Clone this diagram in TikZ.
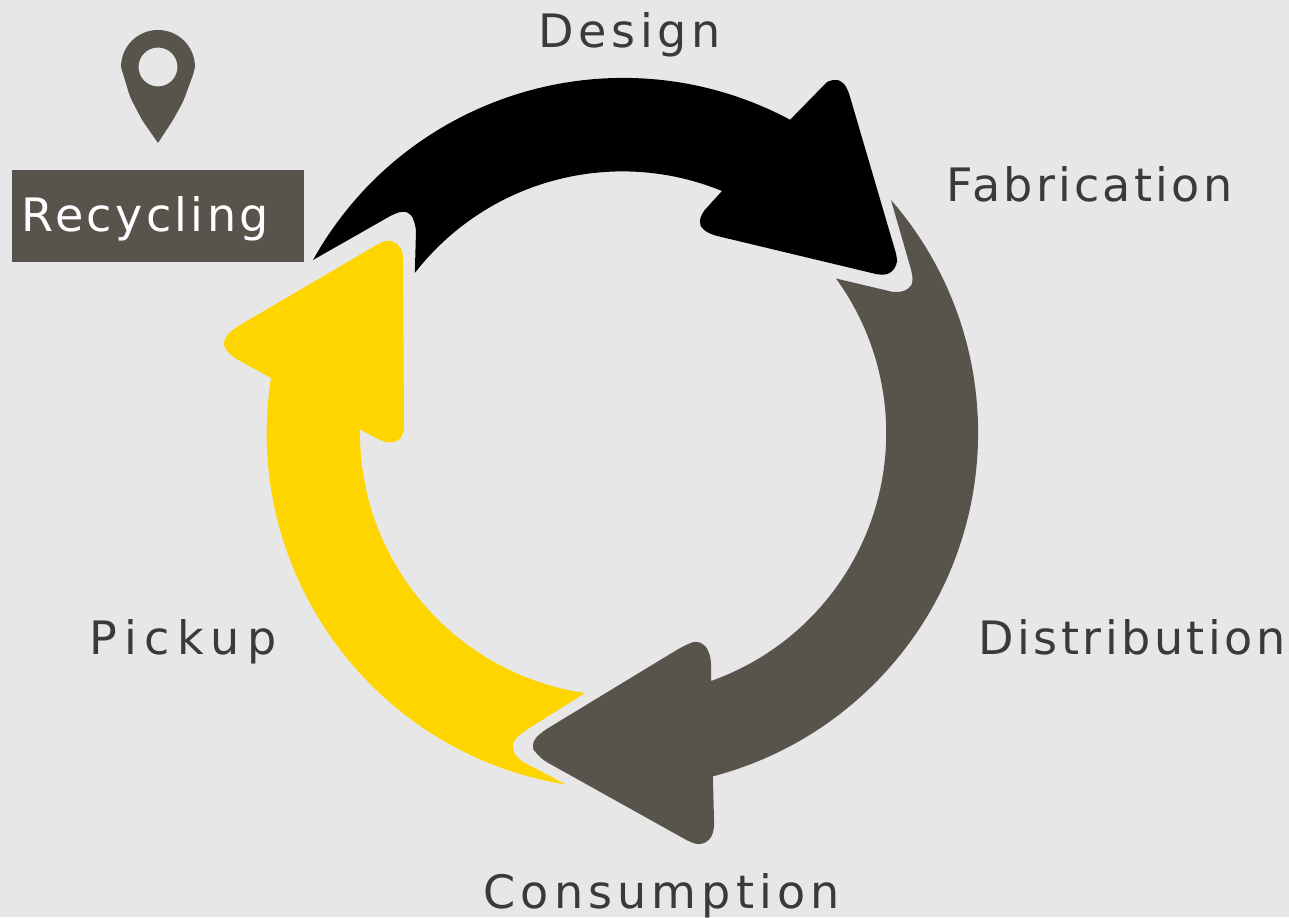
\documentclass[tikz,border=0pt]{standalone}
\usepackage{fontspec}
\setmainfont{DejaVu Sans}
\definecolor{pagegray}{HTML}{E7E7E7}
\definecolor{stonegray}{HTML}{58544C}
\definecolor{signyellow}{HTML}{FFD500}
\definecolor{labelgray}{HTML}{3A3A3A}
\begin{document}
\begin{tikzpicture}[
    x=0.01cm, y=0.01cm,
    stage/.style={anchor=base west, inner sep=0pt, text=labelgray,
                  font=\fontsize{13.1}{15}\selectfont},
    tagbox/.style={fill=stonegray, inner sep=0pt, minimum width=2.92cm,
                   minimum height=0.92cm},
    soft/.style={rounded corners=1.4pt}
  ]
    \fill[pagegray] (0,0) rectangle (1289,917);

    % black arrow
    \fill[black] (313,657) arc[start angle=150.84, end angle=61.92, radius=355]
      -- (827,835) [soft] -- (835,838) -- (843,835) -- (848,827) -- (897,660)
      -- (897,652) -- (890,643) -- (880,642) -- (713,682) -- (703,687)
      -- (699,694) -- (702,704) [sharp corners] -- (722,726)
      arc[start angle=67.75, end angle=142.12, radius=263]
      -- (416,687) [soft] -- (414,697) -- (410,704) -- (402,706) -- (392,702)
      [sharp corners] -- (313,657) -- cycle;

    % gray arrow
    \fill[stonegray] (891,717) arc[start angle=41, end angle=-75.34, radius=355]
      -- (714,97) [soft] -- (714,87) -- (710,77) -- (700,72) -- (690,75) -- (543,157)
      -- (535,165) -- (532,170) -- (535,179) -- (545,187) -- (680,269)
      -- (690,274) -- (697,276) -- (705,272) -- (709,265) -- (711,257)
      [sharp corners] -- (711,236)
      arc[start angle=-70.5, end angle=36, radius=263]
      -- (893,625) [soft] -- (902,625) -- (910,629) -- (913,635) -- (912,644)
      [sharp corners] -- (891,717) -- cycle;

    % yellow arrow
    \fill[signyellow] (271,539) arc[start angle=171.1, end angle=260.8, radius=356]
      -- (523,155) [soft] -- (515,162) -- (512,170) -- (514,177) -- (523,185)
      [sharp corners] -- (585,224)
      arc[start angle=261.7, end angle=179.3, radius=263]
      -- (382,476) [soft] -- (390,474) -- (398,476) -- (403,482) -- (404,489) -- (403,664)
      -- (400,670) -- (395,675) -- (388,677) -- (380,674) -- (235,589) -- (227,582)
      -- (223,574) -- (226,567) -- (233,560) [sharp corners] -- (271,539) -- cycle;

    % map pin
    \fill[stonegray, even odd rule] (121,850) arc[start angle=180, end angle=0, radius=37]
      -- (193,842) [soft] -- (183,815) -- (173,797) [sharp corners] -- (158,774)
      [soft] -- (142,797) -- (130,820) [sharp corners] -- (121,850) -- cycle
      (158,850) circle[radius=19.5];

    \node[tagbox] (tag) at (158,701) {};
    \node[stage, text=white] (recycling) at (21,685)
      {\addfontfeature{LetterSpace=7.3}Recycling};
    \node[stage] (design)       at (538,869) {\addfontfeature{LetterSpace=10}Design};
    \node[stage] (fabrication)  at (946,715) {\addfontfeature{LetterSpace=7}Fabrication};
    \node[stage] (distribution) at (978,262) {\addfontfeature{LetterSpace=7.5}Distribution};
    \node[stage] (consumption)  at (483,9)   {\addfontfeature{LetterSpace=11}Consumption};
    \node[stage] (pickup)       at (89,262)  {\addfontfeature{LetterSpace=16.5}Pickup};
  \end{tikzpicture}
\end{document}
